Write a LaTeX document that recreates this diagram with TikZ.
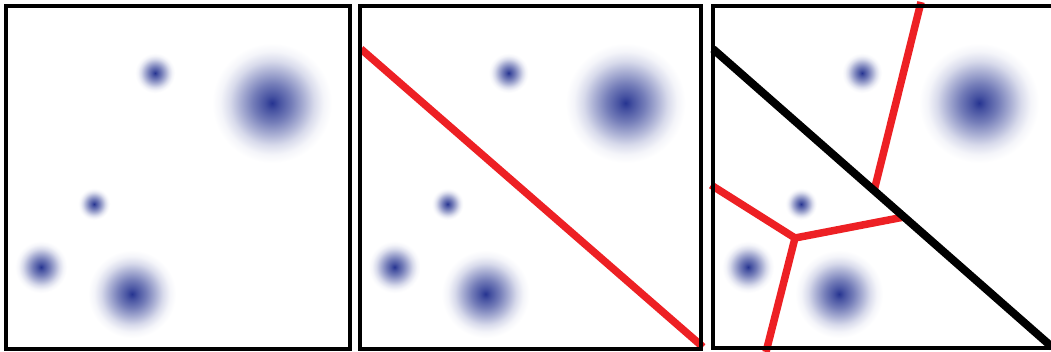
\documentclass[tikz,border=0pt]{standalone}
\definecolor{bcore}{RGB}{38,52,145}
\definecolor{vred}{RGB}{237,32,36}
\colorlet{bc1}{bcore!85!white}
\colorlet{bc2}{bcore!64!white}
\colorlet{bc3}{bcore!40!white}
\colorlet{bc4}{bcore!18!white}
\colorlet{bc5}{bcore!5!white}
\pgfdeclareradialshading{blob}{\pgfpoint{0bp}{0bp}}{color(0bp)=(bcore); color(3bp)=(bc1); color(8bp)=(bc2); color(13bp)=(bc3); color(17.5bp)=(bc4); color(21.5bp)=(bc5); color(25bp)=(white); color(50bp)=(white)}
\begin{document}
\begin{tikzpicture}[x=1pt,y=-1pt,
  frame/.style={draw=black,line width=4pt},
  redline/.style={draw=vred,line width=7.5pt},
  blackline/.style={draw=black,line width=8pt}]
\clip (0,0) rectangle (1051,351);
\fill[white] (0,0) rectangle (1051,351);
% blobs in each panel
\foreach \dx in {0,353.5,707}{
  \begin{scope}[xshift=\dx pt]
    \shade[shading=blob] (155,73) circle[radius=20];
    \shade[shading=blob] (272,103) circle[radius=60];
    \shade[shading=blob] (94,204) circle[radius=16];
    \shade[shading=blob] (41,267) circle[radius=26];
    \shade[shading=blob] (132,294) circle[radius=44];
  \end{scope}
}
% panel 2: single red split
\coordinate (p2a) at (361,49);
\coordinate (p2b) at (703,347);
\draw[redline] (p2a) -- (p2b);
% panel 3: red regions and black split
\coordinate (j) at (795,238);
\coordinate (rt) at (921,2);
\coordinate (rte) at (874,191);
\coordinate (rr) at (904,217);
\coordinate (rl) at (711,185);
\coordinate (rb) at (766,352);
\draw[redline] (rt) -- (rte);
\draw[redline] (rl) -- (j) -- (rr);
\draw[redline] (j) -- (rb);
\coordinate (p3a) at (713,49);
\coordinate (p3b) at (1052,347);
\draw[blackline] (p3a) -- (p3b);
% frames
\draw[frame] (6,6) rectangle (350,349);
\draw[frame] (359.5,6) rectangle (701,349);
\draw[frame] (713,5.5) rectangle (1058,348);
\end{tikzpicture}
\end{document}
